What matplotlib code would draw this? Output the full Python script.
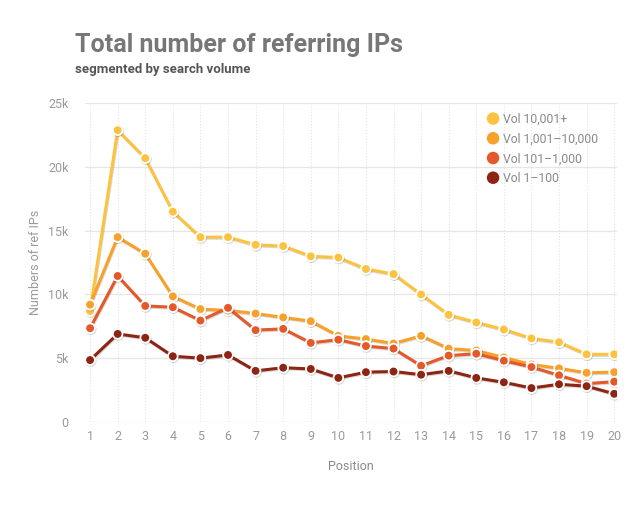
import matplotlib
matplotlib.use("Agg")
import matplotlib.pyplot as plt
import matplotlib.patheffects as pe
from matplotlib.ticker import FuncFormatter

plt.rcParams['font.family'] = ['Roboto', 'DejaVu Sans']

# data (thousands of referring IPs)
positions = list(range(1, 21))
vol_10001 = [8.7, 22.9, 20.7, 16.5, 14.5, 14.5, 13.9, 13.8, 13.0, 12.9,
             12.0, 11.6, 10.0, 8.4, 7.8, 7.25, 6.55, 6.25, 5.3, 5.3]
vol_1001 = [9.2, 14.5, 13.2, 9.85, 8.85, 8.75, 8.5, 8.2, 7.9, 6.75,
            6.5, 6.15, 6.75, 5.75, 5.6, 5.05, 4.5, 4.2, 3.85, 3.9]
vol_101 = [7.35, 11.45, 9.1, 9.0, 7.95, 8.95, 7.2, 7.3, 6.2, 6.45,
           5.95, 5.75, 4.4, 5.2, 5.35, 4.8, 4.3, 3.65, 3.0, 3.15]
vol_1 = [4.85, 6.9, 6.6, 5.15, 5.0, 5.25, 4.0, 4.25, 4.15, 3.45,
         3.9, 3.95, 3.7, 4.0, 3.45, 3.1, 2.65, 2.95, 2.8, 2.2]

series = [vol_10001, vol_1001, vol_101, vol_1]
labels = ['Vol 10,001+', 'Vol 1,001\u201310,000', 'Vol 101\u20131,000', 'Vol 1\u2013100']
colors = ['#FDC23E', '#F7A12A', '#E5582A', '#8E2414']

fig = plt.figure(figsize=(6.4, 5.07), dpi=100)
ax = fig.add_axes([0.133, 0.168, 0.831, 0.628])

for vals, lab, col in zip(series, labels, colors):
    ax.plot(positions, [v * 1000 for v in vals], '-o', color=col, lw=2.2,
            ms=7, mfc=col, mec='white', mew=1.3, label=lab, zorder=3,
            path_effects=[pe.SimpleLineShadow(offset=(0.5, -0.8), alpha=0.15),
                          pe.Normal()])

ax.set_xlim(0.82, 20.1)
ax.set_ylim(0, 25000)
ax.set_xticks(positions)
ax.set_yticks([0, 5000, 10000, 15000, 20000, 25000])
ax.yaxis.set_major_formatter(FuncFormatter(lambda v, p: '0' if v == 0 else '%dk' % (v / 1000)))

ax.grid(axis='y', color='#e6e6e6', lw=0.9, ls='-')
ax.grid(axis='x', color='#e2e2e2', lw=0.8, ls=':')
ax.set_axisbelow(True)
for s in ax.spines.values():
    s.set_visible(False)
ax.tick_params(length=0, colors='#9a9a9a', labelsize=9)
ax.tick_params(axis='x', pad=6)
ax.tick_params(axis='y', pad=12)

ax.set_xlabel('Position', color='#8a8a8a', fontsize=9, labelpad=12)
ax.set_ylabel('Numbers of ref IPs', color='#9a9a9a', fontsize=9, labelpad=4)

leg = ax.legend(loc='upper right', bbox_to_anchor=(0.985, 1.005), frameon=False,
                fontsize=8.8, handlelength=0.8, handletextpad=0.4, labelspacing=0.55)
for h in leg.legend_handles:
    h.set_linestyle('')
    h.set_markeredgewidth(0)
    h.set_markersize(9)
for t in leg.get_texts():
    t.set_color('#8a8a8a')

fig.text(0.117, 0.897, 'Total number of referring IPs', fontsize=18, fontweight='bold',
         color='#777777', va='baseline')
fig.text(0.117, 0.856, 'segmented by search volume', fontsize=9.5, fontweight='bold',
         color='#555555', va='baseline')

fig.savefig('out.png', dpi=100, facecolor='white')
